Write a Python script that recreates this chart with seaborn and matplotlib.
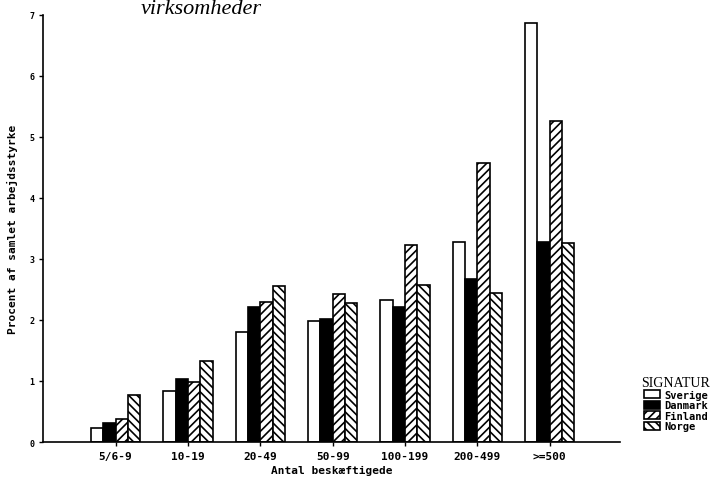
from matplotlib import pyplot as plt
import seaborn as sns
import pandas as pd

sns.set_style('ticks', {'axes.edgecolor': 'black', 'text.color': 'black',
                        'xtick.color': 'black', 'ytick.color': 'black',
                        'axes.labelcolor': 'black'})

# Antal beskaeftigede (size classes)
groups = ['5/6-9', '10-19', '20-49', '50-99', '100-199', '200-499', '>=500']
countries = ['Sverige', 'Danmark', 'Finland', 'Norge']

# Procent af samlet arbejdsstyrke
sverige = [0.23, 0.84, 1.81, 1.99, 2.32, 3.27, 6.87]
danmark = [0.31, 1.03, 2.22, 2.02, 2.21, 2.67, 3.28]
finland = [0.38, 0.99, 2.30, 2.43, 3.23, 4.57, 5.26]
norge = [0.77, 1.32, 2.55, 2.28, 2.57, 2.45, 3.26]

df = pd.DataFrame({
    'group': groups * 4,
    'country': [c for c in countries for _ in groups],
    'value': sverige + danmark + finland + norge,
})

colors = {'Sverige': 'white', 'Danmark': 'black', 'Finland': 'white', 'Norge': 'white'}
hatches = {'Sverige': '', 'Danmark': '', 'Finland': '////', 'Norge': '\\\\\\\\'}

mono = {'family': 'DejaVu Sans Mono', 'weight': 'bold'}
plt.rcParams['hatch.linewidth'] = 1.2

fig = plt.figure(figsize=(7.2, 4.81), dpi=100)
ax = fig.add_axes([0.06, 0.079, 0.801, 0.888])

sns.barplot(data=df, x='group', y='value', hue='country', order=groups,
            hue_order=countries, palette=colors, width=0.68,
            edgecolor='black', linewidth=1.2, legend=False, ax=ax)

for country, cont in zip(countries, ax.containers):
    for p in cont:
        p.set_hatch(hatches[country])

ax.set_ylim(0, 7)
ax.set_xlim(-1, 6.97)
ax.set_yticks(range(8))
ax.tick_params(axis='both', labelsize=6, length=3, width=1, colors='black')
for lab in ax.get_yticklabels():
    lab.set_fontfamily(mono['family'])
    lab.set_fontweight('bold')
for lab in ax.get_xticklabels():
    lab.set_fontfamily(mono['family'])
    lab.set_fontweight('bold')
    lab.set_fontsize(8)
ax.set_ylabel('Procent af samlet arbejdsstyrke', fontsize=8, labelpad=8, color='black', **mono)
ax.set_xlabel('Antal beskæftigede', fontsize=8, labelpad=3, color='black', **mono)
sns.despine(ax=ax)
for s in ['left', 'bottom']:
    ax.spines[s].set_linewidth(1.2)
    ax.spines[s].set_color('black')

# legend
handles = [plt.Rectangle((0, 0), 1, 1, facecolor=colors[c], edgecolor='black',
                         linewidth=1.2, hatch=hatches[c])
           for c in countries]
leg = fig.legend(handles, countries, title='SIGNATUR', loc='upper left',
                 bbox_to_anchor=(0.891, 0.216), frameon=False,
                 prop={'family': 'DejaVu Sans Mono', 'weight': 'bold', 'size': 7.5},
                 handlelength=1.5, handleheight=0.8, handletextpad=0.4,
                 labelspacing=0.05, borderaxespad=0, borderpad=0)
leg.get_title().set_fontfamily('Liberation Serif')
leg.get_title().set_fontsize(10)

fig.text(0.196, 0.999, 'virksomheder', family='Liberation Serif',
         style='italic', fontsize=16, va='top', ha='left')

fig.savefig('out.png', dpi=100)
